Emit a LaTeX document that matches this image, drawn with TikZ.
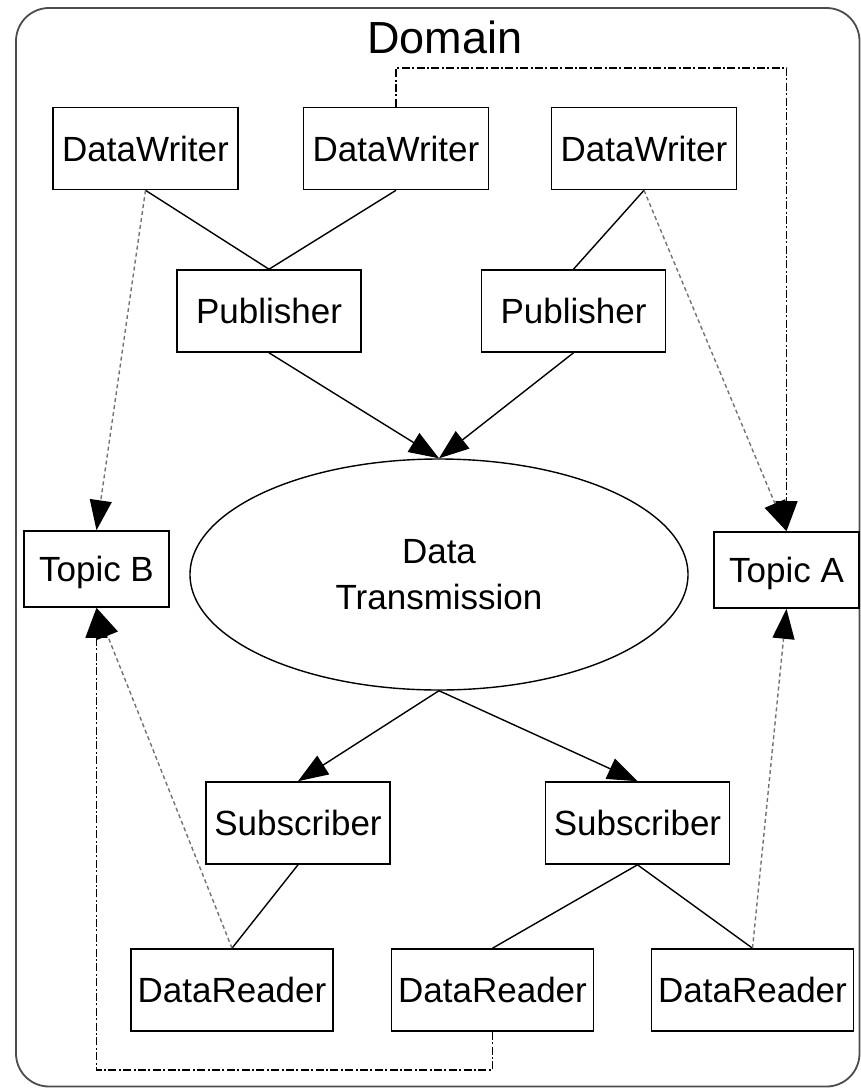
\documentclass[tikz,border=0pt]{standalone}
\usepackage{fontspec}
\setmainfont{Liberation Sans}
\usepackage{tikz}
\usetikzlibrary{shapes, arrows, arrows.meta, calc}
\tikzstyle{box} = [rectangle, draw, fill=white, line width=0.8pt,
    inner sep=0pt, minimum height=41pt, text height=12.5pt, text depth=0pt,
    font=\fontsize{17.5pt}{23pt}\selectfont]
\tikzstyle{writer} = [box, minimum width=92.5pt]
\tikzstyle{pub} = [box, minimum width=92pt]
\tikzstyle{topic} = [box, minimum width=72.5pt, minimum height=38pt]
\tikzstyle{sub} = [box, minimum width=92pt]
\tikzstyle{reader} = [box, minimum width=101pt]
\tikzstyle{channel} = [ellipse, draw, line width=0.7pt, inner sep=0pt,
    minimum width=249pt, minimum height=115.5pt, align=center,
    font=\fontsize{17.5pt}{23pt}\selectfont]
\tikzstyle{line} = [draw, line width=0.7pt]
\tikzstyle{arrow} = [line, -{Triangle[length=15pt, width=11pt]}]
\tikzstyle{hint} = [draw, black!55, line width=0.7pt, dash pattern=on 2pt off 1.5pt,
    -{Triangle[length=15pt, width=11pt, color=black]}]
\tikzstyle{route} = [draw, line width=0.7pt, dash pattern=on 4pt off 1.2pt on 1pt off 1.2pt,
    -{Triangle[length=15pt, width=11pt]}]

\begin{document}
\begin{tikzpicture}[x=0.5pt, y=-0.5pt]
    \useasboundingbox (0,0) rectangle (861,1088);
    % Domain frame
    \draw [black!70, line width=0.9pt, rounded corners=16.5pt] (16,8) rectangle (859.5,1086.5);
    \node [font=\fontsize{22.5pt}{27pt}\selectfont, inner sep=0pt] (domain) at (445,37.5) {Domain};

    % Nodes
    \node [writer] (wrB) at (145.5,148.5) {DataWriter};
    \node [writer] (wrMid) at (396,148.5) {DataWriter};
    \node [writer] (wrA) at (644,148.5) {DataWriter};
    \node [pub] (pubL) at (269,311) {Publisher};
    \node [pub] (pubR) at (573.5,311) {Publisher};
    \node [channel] (trans) at (439,574.5) {Data\\Transmission};
    \node [topic] (topB) at (96.5,569) {Topic B};
    \node [topic] (topA) at (786.5,570) {Topic A};
    \node [sub] (subL) at (298,823) {Subscriber};
    \node [sub] (subR) at (637.5,823) {Subscriber};
    \node [reader] (rdL) at (232,990) {DataReader};
    \node [reader] (rdMid) at (492.5,990) {DataReader};
    \node [reader] (rdR) at (752.5,990) {DataReader};
    \coordinate (topline) at (0,68);
    \coordinate (botline) at (0,1070);

    % Edges
    \path [line] (wrB.south) -- (pubL.north);
    \path [line] (wrMid.south) -- (pubL.north);
    \path [line] (wrA.south) -- (pubR.north);
    \path [arrow] (pubL.south) -- (trans.north);
    \path [arrow] (pubR.south) -- (trans.north);
    \path [arrow] (trans.south) -- (subL.north);
    \path [arrow] (trans.south) -- (subR.north);
    \path [line] (subL.south) -- (rdL.north);
    \path [line] (subR.south) -- (rdMid.north);
    \path [line] (subR.south) -- (rdR.north);
    \path [hint] (wrB.south) -- (topB.north);
    \path [hint] (wrA.south) -- (topA.north);
    \path [hint] (rdL.north) -- (topB.south);
    \path [hint] (rdR.north) -- (topA.south);
    \path [route] (wrMid.north) -- (wrMid.north |- topline) -| (topA.north);
    \path [route] (rdMid.south) -- (rdMid.south |- botline) -| (topB.south);
\end{tikzpicture}
\end{document}
